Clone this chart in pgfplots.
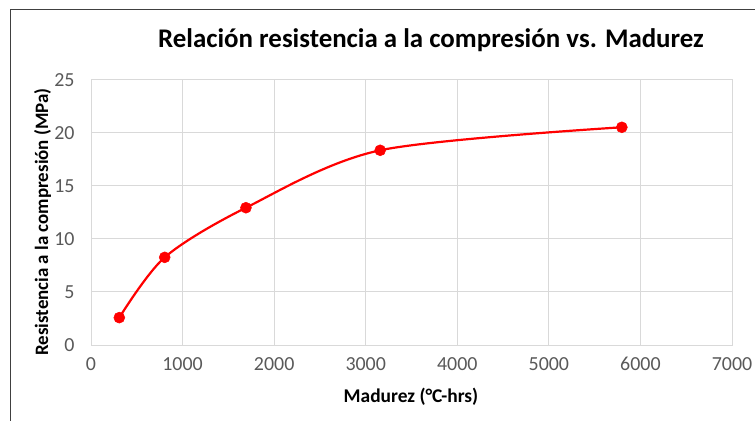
\documentclass[border=0pt]{standalone}
\usepackage{pgfplots}
\pgfplotsset{compat=1.18}
\usepackage{fontspec}
\setmainfont{Carlito}
\definecolor{gridc}{HTML}{D9D9D9}
\definecolor{tickc}{HTML}{595959}
\begin{document}
\begin{tikzpicture}
\path[use as bounding box] (-91bp,-76bp) rectangle (664bp,345bp);
\draw[line width=1bp,color=black!75] (-80bp,-80bp) -- (-80bp,335bp) -- (670bp,335bp);
\begin{axis}[
  at={(0,0)}, anchor=south west,
  scale only axis, width=641bp, height=265bp,
  xmin=0, xmax=7000, ymin=0, ymax=25,
  xtick={0,1000,...,7000}, ytick={0,5,...,25},
  grid=major,
  major grid style={line width=1bp, color=gridc},
  axis line style={line width=1bp, color=gridc},
  major tick length=0pt,
  tick label style={color=tickc, font=\fontsize{20}{22}\selectfont},
  /pgf/number format/assume math mode=true,
  /pgf/number format/1000 sep={},
  xticklabel style={yshift=-9bp},
  yticklabel style={xshift=-13bp},
  clip=false,
]
\addplot[color=red, line width=2.2bp, smooth, tension=0.5, mark=*, mark size=5.5bp, mark options={fill=red, draw=red, line width=0.5bp}]
  coordinates {(309,2.58) (805,8.27) (1692,12.95) (3158,18.37) (5797,20.54)};
\end{axis}
\node[font=\fontsize{27}{30}\selectfont\bfseries] at (340bp,305bp) {Relación resistencia a la compresión vs. Madurez};
\node[font=\fontsize{19.5}{22}\selectfont\bfseries] at (320bp,-52bp) {Madurez (°C-hrs)};
\node[font=\fontsize{19}{22}\selectfont\bfseries, rotate=90] at (-48.5bp,123bp) {Resistencia a la compresión (MPa)};
\end{tikzpicture}
\end{document}
